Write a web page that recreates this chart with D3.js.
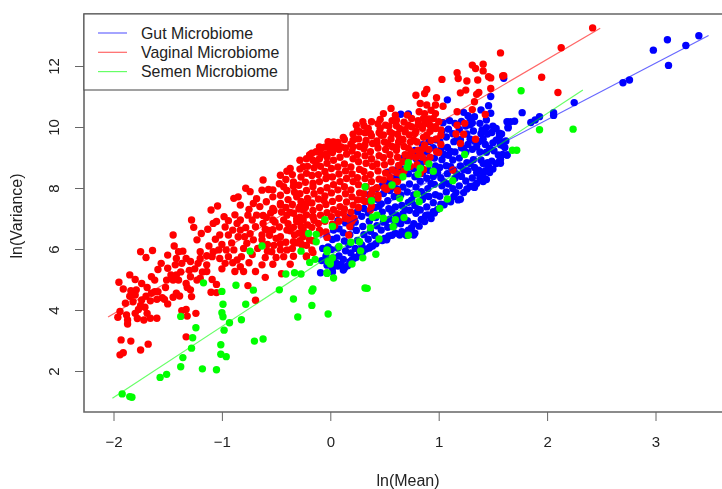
<!DOCTYPE html>
<html lang="en">
<head>
<meta charset="UTF-8">
<title>ln(Mean) vs ln(Variance)</title>
<script src="https://d3js.org/d3.v7.min.js"></script>
<style>
  html, body { margin: 0; background: #fff; }
  svg { display: block; filter: blur(0.35px); }
  text { font-family: "Liberation Sans", Arial, sans-serif; fill: #222; }
</style>
</head>
<body>
<div id="chart"></div>
<script>
var seriesNames = ["Gut Microbiome", "Vaginal Microbiome", "Semen Microbiome"];
var seriesColors = ["#0000ff", "#ff0000", "#00ff00"];
var xTicks = [-2, -1, 0, 1, 2, 3];
var yTicks = [2, 4, 6, 8, 10, 12];

// fitted lines, ends
var gutLine = [[-0.1, 6.35], [3.49, 13.0]];
var vaginalLine = [[-2.05, 3.77], [2.49, 13.24]];
var semenLine = [[-2.01, 1.11], [2.33, 11.21]];

// [ln(mean), ln(variance)]
var gutPoints = [
  [3.40,12.99],[3.28,12.67],[3.11,12.86],[2.98,12.52],[3.12,12.02],[2.76,11.54],[2.70,11.45],[2.25,10.80],[2.06,10.47],[2.06,10.38],
  [1.93,10.34],[1.89,10.23],[1.85,10.15],[1.77,10.47],[1.70,10.19],[1.66,10.17],[1.63,10.17],[1.64,9.99],[1.58,9.77],[1.62,9.54],
  [1.61,9.33],[1.63,9.08],[1.57,8.94],[1.57,9.52],[1.60,11.60],[1.08,10.89],[1.48,11.00],[1.46,10.70],[1.48,10.45],[1.39,10.56],
  [1.23,10.48],[0.65,10.42],[0.72,10.43],[1.10,10.21],[1.04,10.14],[1.44,10.23],[1.33,10.34],[1.64,9.97],[1.56,9.80],[1.53,9.57],
  [1.50,10.03],[1.40,9.90],[1.29,10.28],[1.29,10.07],[1.41,8.21],[1.33,8.02],[1.47,8.51],[1.57,8.81],[1.63,9.08],[1.18,7.61],
  [0.95,7.22],[0.87,6.90],[0.77,6.46],[0.64,6.46],[0.50,6.35],[0.37,6.08],[0.12,5.31],[0.20,5.64],[-0.09,5.22],[0.02,5.25],
  [-0.08,5.62],[-0.07,6.02],[-0.03,5.47],[-0.04,5.76],[-0.02,6.07],[-0.03,6.41],
  [0.02,5.38],[0.03,5.71],[0.01,5.98],[0.02,6.31],[0.03,6.62],
  [0.07,5.44],[0.08,5.77],[0.07,6.03],[0.06,6.36],[0.08,6.66],[0.07,6.93],
  [0.13,5.37],[0.12,5.66],[0.14,5.94],[0.13,6.26],[0.12,6.53],[0.14,6.86],
  [0.18,5.58],[0.19,5.87],[0.17,6.14],[0.18,6.47],[0.19,6.73],[0.18,7.06],
  [0.24,5.73],[0.23,6.02],[0.25,6.28],[0.24,6.61],[0.23,6.88],[0.25,7.22],
  [0.30,5.91],[0.29,6.13],[0.31,6.47],[0.30,6.74],[0.29,7.07],[0.31,7.33],
  [0.36,6.03],[0.35,6.32],[0.37,6.58],[0.36,6.91],[0.35,7.18],[0.37,7.52],[0.36,7.78],
  [0.42,6.17],[0.41,6.44],[0.43,6.76],[0.42,7.03],[0.41,7.36],[0.43,7.63],[0.42,7.97],
  [0.48,6.28],[0.47,6.62],[0.49,6.88],[0.48,7.21],[0.47,7.48],[0.49,7.82],[0.48,8.08],
  [0.54,6.43],[0.53,6.71],[0.55,6.98],[0.54,7.32],[0.53,7.58],[0.55,7.92],[0.54,8.18],[0.53,8.52],
  [0.60,6.52],[0.59,6.78],[0.61,7.11],[0.60,7.38],[0.59,7.72],[0.61,7.98],[0.60,8.32],[0.59,8.58],
  [0.66,6.57],[0.65,6.83],[0.67,7.16],[0.66,7.43],[0.65,7.77],[0.67,8.03],[0.66,8.37],[0.65,8.63],[0.67,8.97],
  [0.72,6.62],[0.71,6.93],[0.73,7.27],[0.72,7.53],[0.71,7.87],[0.73,8.13],[0.72,8.47],[0.71,8.73],[0.73,9.07],
  [0.78,6.52],[0.77,6.83],[0.79,7.17],[0.78,7.43],[0.77,7.77],[0.79,8.03],[0.78,8.37],[0.77,8.63],[0.79,8.97],[0.78,9.23],
  [0.84,6.97],[0.83,7.28],[0.85,7.62],[0.84,7.88],[0.83,8.22],[0.85,8.48],[0.84,8.82],[0.83,9.08],[0.85,9.42],
  [0.90,7.12],[0.89,7.38],[0.91,7.72],[0.90,7.98],[0.89,8.32],[0.91,8.58],[0.90,8.92],[0.89,9.18],[0.91,9.52],
  [0.96,7.18],[0.95,7.52],[0.97,7.78],[0.96,8.12],[0.95,8.38],[0.97,8.72],[0.96,8.98],[0.95,9.32],[0.97,9.58],
  [1.02,7.47],[1.01,7.73],[1.03,8.07],[1.02,8.33],[1.01,8.67],[1.03,8.93],[1.02,9.27],[1.01,9.53],[1.03,9.87],
  [1.08,7.58],[1.07,7.87],[1.09,8.13],[1.08,8.47],[1.07,8.73],[1.09,9.07],[1.08,9.33],[1.07,9.67],[1.09,9.93],
  [1.14,7.72],[1.13,7.98],[1.15,8.32],[1.14,8.58],[1.13,8.92],[1.15,9.18],[1.14,9.52],[1.13,9.78],[1.15,10.12],
  [1.20,7.63],[1.19,8.07],[1.21,8.38],[1.20,8.72],[1.19,8.98],[1.21,9.32],[1.20,9.58],[1.19,9.92],[1.21,10.18],
  [1.26,7.97],[1.25,8.23],[1.27,8.57],[1.26,8.83],[1.25,9.17],[1.27,9.43],[1.26,9.77],[1.25,10.03],[1.27,10.37],
  [1.32,8.07],[1.31,8.33],[1.33,8.67],[1.32,8.93],[1.31,9.27],[1.33,9.53],[1.32,9.87],[1.31,10.13],
  [1.38,8.32],[1.37,8.58],[1.39,8.92],[1.38,9.18],[1.37,9.52],[1.39,9.78],[1.38,10.12],
  [1.44,8.28],[1.43,8.57],[1.45,8.83],[1.44,9.17],[1.43,9.43],[1.45,9.77],[1.44,9.98],
  [1.50,8.62],[1.49,8.88],[1.51,9.22],[1.50,9.48],[1.49,9.82],
  [1.56,8.87],[1.55,9.08],[1.57,9.42],[1.56,9.68],
  [0.05,5.55],[0.10,5.50],[0.16,5.45],[0.22,5.70],[0.27,5.85],[0.33,6.00],[0.39,6.10],[0.45,6.30],[0.52,6.30],[0.57,6.45],
  [0.70,6.45],[0.75,6.70],[0.82,6.75],[0.88,7.10],[0.93,7.00],[0.99,7.30],[1.05,7.45],[1.11,7.55],[1.16,7.85],[1.23,7.85],
  [1.29,8.05],[1.35,8.15],[1.41,8.45],[1.46,8.70],[1.53,8.80],[1.59,9.10],[1.59,9.40],[1.53,9.95],[1.47,9.30],[1.41,9.60],
  [1.35,9.35],[1.29,9.60],[1.23,9.30],[1.17,9.60],[1.11,9.20],[1.05,9.10],[1.11,8.70],[1.17,8.45],[1.23,8.60],[1.29,8.80],
  [1.35,8.50],[1.41,8.80],[1.05,8.20],[0.99,8.50],[0.93,8.15],[0.87,7.75],[0.81,7.30],[0.75,7.60],[0.69,7.30],[0.63,7.00],
  [0.57,7.20],[0.51,6.90],[0.45,7.40]
];

var vaginalPoints = [
  [2.42,13.25],[2.13,12.60],[1.95,11.63],[2.10,11.13],[1.60,11.68],[1.57,12.43],[1.31,12.03],[1.34,11.92],[1.41,12.06],[1.41,11.84],
  [1.46,11.65],[1.48,11.61],[1.59,11.67],[1.17,11.78],[1.18,11.59],[1.03,11.56],[1.26,11.51],[1.36,11.54],[1.48,11.26],[1.25,11.21],
  [1.20,11.12],[1.37,11.13],[1.35,11.07],[1.33,10.83],[1.31,10.57],[0.89,11.23],[0.87,11.10],[0.79,11.04],[0.98,10.96],[0.83,10.77],
  [0.89,10.72],[0.97,10.72],[1.04,10.68],[1.17,10.50],[1.43,10.41],[0.56,10.61],[0.49,10.44],[0.46,10.25],[0.60,10.39],[0.61,10.22],
  [0.71,10.39],[0.75,10.28],[0.82,10.50],[0.87,10.44],[0.93,10.55],[0.97,10.44],[0.95,10.28],[0.86,10.28],[1.00,10.17],[1.02,9.90],
  [1.02,9.73],[0.81,10.06],[0.92,10.06],[0.97,9.95],[1.17,10.06],[1.24,10.12],[1.16,9.77],[1.23,9.76],[1.20,9.46],[1.34,9.60],
  [1.02,9.43],[0.98,9.19],[0.86,9.30],[0.12,9.66],[0.21,9.57],[0.30,10.17],[0.38,10.17],[0.24,10.06],[0.35,9.95],[0.46,9.95],
  [0.54,10.03],[0.27,9.84],[0.37,9.79],[0.47,9.73],[0.57,9.79],[0.64,9.95],[0.72,10.06],[0.69,9.84],[0.78,9.79],[0.89,9.73],
  [0.77,9.57],[0.64,9.62],[0.03,9.51],[-0.08,9.32],[-0.13,9.19],[-0.19,9.08],[0.10,9.35],[0.00,9.24],[0.21,9.35],[0.32,9.41],
  [0.43,9.46],[0.53,9.46],[0.61,9.35],[0.72,9.30],[0.83,9.13],
  // lower edge of the cloud
  [0.37,7.28],[0.62,7.91],[0.44,7.67],[0.17,6.46],[0.18,6.74],[0.22,7.01],[0.18,6.95],[0.12,7.17],[0.04,6.74],[-0.03,6.38],
  [-0.19,6.30],[-0.26,6.14],[-0.16,5.88],[-0.22,5.75],[0.30,7.61],[0.38,7.83],[0.52,7.96],[0.60,8.21],[0.64,8.48],[0.83,8.48],
  [0.89,8.87],[1.00,9.16],[1.13,8.59],[-0.28,6.90],[-0.16,7.06],[-0.25,7.28],
  // scattered left part
  [-1.93,3.02],[-1.84,2.98],[-1.68,2.88],[-1.75,2.69],[-1.91,2.60],[-1.94,2.53],[-1.33,3.12],[-1.87,3.54],[-1.87,3.67],[-1.96,3.76],
  [-1.94,3.95],[-1.88,3.84],[-1.80,3.89],[-1.72,3.67],[-1.66,3.73],[-1.60,3.73],[-1.69,3.89],[-1.77,4.02],[-1.89,4.22],[-1.82,4.27],
  [-1.71,4.09],[-1.66,4.30],[-1.53,4.35],[-1.95,4.91],[-1.91,4.69],[-1.84,4.63],[-1.79,4.66],[-1.80,4.49],[-1.74,4.33],[-1.85,5.15],
  [-1.80,5.00],[-1.74,4.87],[-1.69,4.74],[-1.62,4.60],[-1.65,5.09],[-1.62,4.98],[-1.59,4.60],[-1.52,4.74],[-1.51,4.98],[-1.45,4.98],
  [-1.42,5.15],[-1.44,5.09],[-1.40,4.98],[-1.59,5.33],[-1.56,5.53],[-1.50,5.37],[-1.45,4.42],[-1.39,4.46],[-1.42,4.55],[-1.33,4.87],
  [-1.29,4.66],[-1.28,4.44],[-1.32,4.74],[-1.37,3.98],[-1.33,4.02],[-1.32,3.80],[-1.24,3.89],[-1.29,5.09],[-1.23,4.98],[-1.20,5.04],
  [-1.09,5.00],[-1.05,4.84],[-1.10,4.58],[-1.05,4.57],[-0.76,4.80],[-0.69,4.32],[-1.75,5.91],[-1.64,5.95],[-1.70,5.72],[-1.50,5.80],
  [-1.44,6.10],[-1.45,6.46],[-1.40,5.91],[-1.36,5.93],[-1.42,5.69],[-1.33,5.69],[-1.37,5.53],[-1.43,5.48],[-1.29,5.59],[-1.23,6.30],
  [-1.19,6.51],[-1.13,6.65],[-1.26,6.71],[-1.28,6.95],[-1.10,7.28],[-1.04,7.41],[-1.08,6.84],[-1.05,6.90],[-0.98,7.06],[-0.94,6.93],
  [-1.02,6.46],[-1.06,6.32],[-0.94,6.46],[-1.20,5.91],[-1.20,5.69],[-1.22,5.53],[-1.14,5.48],[-1.14,5.26],[-1.08,5.91],[-1.09,5.75],
  [-1.03,5.97],[-1.02,5.69],[-0.96,5.97],[-0.97,5.53],[-0.94,5.75],[-0.89,5.97],[-0.88,5.26],[-0.83,5.42],[-0.80,5.26],[-0.82,5.75],
  [-0.86,5.64],[-0.80,6.02],[-0.69,5.26],[-0.60,5.07],[-0.63,5.48],[-0.53,5.50],[-0.45,5.19],[-0.37,5.50],[-0.86,6.84],[-0.83,6.62],
  [-0.85,6.40],[-0.79,6.40],[-0.74,6.50],[-0.69,6.73],[-0.63,6.46],[-0.71,6.30],[-0.77,6.19],[-0.63,6.30],[-0.68,7.11],[-0.76,7.11],
  [-0.83,6.95],[-0.62,6.84],[-0.54,5.91],[-0.46,5.97],[-0.43,5.75],[-0.34,6.24],[-0.26,6.13],[-0.19,6.30],[-0.17,5.97],[-0.22,5.77],
  [-0.46,6.40],[-0.40,6.62],[-0.53,6.95],[-0.43,6.95],[-0.31,6.90],[-0.25,6.62],[-0.34,7.17],[-0.53,7.33],[-0.65,7.39],[-0.46,7.44],
  [-0.28,7.39],[-0.16,7.06],[-0.10,6.62],[-0.83,7.44],[-0.89,7.66],[-0.85,7.71],[-0.78,7.99],[-0.74,7.88],[-0.62,8.26],[-0.63,7.93],
  [-0.46,8.42],[-0.37,8.64],[-0.28,8.91],[-0.19,9.08],[-0.10,9.35],[-0.02,9.52],[-0.43,8.04],[-0.53,7.71],[-0.59,7.55],[-0.71,7.49],
  [-0.34,8.20],[-0.22,8.48],[-0.13,8.80],[-0.03,9.02],[-0.31,7.71],[-0.16,8.04],[-0.03,8.37],[-0.46,7.49],[-0.22,7.49],[-0.06,7.60],
  // more of the left part
  [-1.00,6.15],[-0.97,6.72],[-0.91,6.20],[-0.90,6.62],[-0.88,7.12],[-0.75,5.55],[-0.72,5.82],[-0.67,6.02],[-0.58,6.15],[-0.60,5.72],
  [-0.50,5.72],[-0.56,6.45],[-0.50,6.35],[-0.55,7.18],[-0.62,7.10],[-0.72,6.95],[-0.78,6.70],[-0.90,5.55],[-1.12,6.10],[-1.14,5.78],
  [-1.00,5.35],[-1.30,5.30],[-1.55,4.40],[-1.50,4.20],[-1.70,4.45],[-1.60,4.35],[-1.75,4.15],[-1.65,4.55],[-1.85,4.45],[-1.78,3.72],
  [-1.38,5.25],[-1.25,5.35],[-1.18,5.25],[-1.47,5.15],[-0.37,6.60],[-0.31,6.20],[-0.31,7.00],[-0.37,7.20],[-0.25,6.40],[-0.25,6.95],
  [-0.68,7.65],[-0.57,7.95],[-0.40,8.55],[-0.25,8.70],[-0.08,9.10],[0.05,9.30],[-0.75,7.30],[-0.60,6.65],
  // dense middle of the cloud
  [-0.58,5.93],[-0.57,6.61],[-0.59,7.03],[-0.52,6.12],[-0.53,6.63],[-0.51,6.88],[-0.52,7.26],[-0.53,7.94],
  [-0.46,6.17],[-0.47,6.72],[-0.45,7.21],[-0.46,7.76],[-0.47,8.14],[-0.40,5.97],[-0.41,6.22],[-0.39,6.83],[-0.40,7.11],[-0.41,7.36],[-0.39,7.62],[-0.40,7.92],[-0.41,8.28],
  [-0.34,5.76],[-0.35,6.02],[-0.33,6.46],[-0.34,6.71],[-0.35,7.46],[-0.33,7.86],[-0.34,8.06],[-0.35,8.44],
  [-0.28,6.27],[-0.29,6.52],[-0.27,6.74],[-0.28,7.04],[-0.29,7.31],[-0.27,7.56],[-0.28,7.81],[-0.29,8.09],[-0.27,8.36],[-0.28,8.62],
  [-0.22,6.12],[-0.23,6.51],[-0.21,6.79],[-0.22,7.12],[-0.23,7.36],[-0.21,7.66],[-0.22,7.92],[-0.23,8.19],[-0.21,8.71],[-0.22,8.96],
  [-0.16,6.27],[-0.17,6.71],[-0.15,6.94],[-0.16,7.26],[-0.17,7.51],[-0.15,7.81],[-0.16,8.16],[-0.17,8.41],[-0.15,8.66],[-0.16,8.91],[-0.17,9.14],
  [-0.10,6.52],[-0.11,6.84],[-0.09,7.11],[-0.10,7.36],[-0.11,7.64],[-0.09,7.91],[-0.10,8.21],[-0.11,8.44],[-0.09,8.71],[-0.10,8.96],[-0.11,9.19],
  [-0.04,6.56],[-0.05,6.91],[-0.03,7.19],[-0.04,7.46],[-0.05,7.74],[-0.03,8.01],[-0.04,8.31],[-0.05,8.54],[-0.03,8.81],[-0.04,9.11],[-0.05,9.34],
  [0.02,6.81],[0.01,7.06],[0.03,7.29],[0.02,7.56],[0.01,7.84],[0.03,8.11],[0.02,8.36],[0.01,8.64],[0.03,8.91],[0.02,9.16],[0.01,9.39],
  [0.08,6.91],[0.07,7.16],[0.09,7.39],[0.08,7.66],[0.07,7.94],[0.09,8.21],[0.08,8.46],[0.07,8.69],[0.09,9.01],[0.08,9.26],[0.07,9.49],
  [0.14,7.01],[0.13,7.31],[0.15,7.54],[0.14,7.81],[0.13,8.04],[0.15,8.31],[0.14,8.56],[0.13,8.79],[0.15,9.11],[0.14,9.31],[0.13,9.59],
  [0.20,6.91],[0.19,7.21],[0.21,7.44],[0.20,7.71],[0.19,7.94],[0.21,8.21],[0.20,8.46],[0.19,8.69],[0.21,8.96],[0.20,9.21],[0.19,9.44],[0.21,9.76],
  [0.26,7.36],[0.25,7.61],[0.27,7.84],[0.26,8.11],[0.25,8.34],[0.27,8.61],[0.26,8.86],[0.25,9.09],[0.27,9.36],[0.26,9.61],[0.25,9.89],
  [0.32,7.56],[0.31,7.81],[0.33,8.04],[0.32,8.31],[0.31,8.54],[0.33,8.81],[0.32,9.06],[0.31,9.29],[0.33,9.56],[0.32,9.81],[0.31,10.04],
  [0.38,7.41],[0.37,7.71],[0.39,7.94],[0.38,8.21],[0.37,8.44],[0.39,8.71],[0.38,8.96],[0.37,9.19],[0.39,9.46],[0.38,9.71],
  [0.44,7.76],[0.43,8.01],[0.45,8.29],[0.44,8.56],[0.43,8.79],[0.45,9.06],[0.44,9.31],[0.43,9.54],[0.45,9.81],[0.44,10.11],
  [0.50,8.01],[0.49,8.26],[0.51,8.49],[0.50,8.76],[0.49,8.99],[0.51,9.26],[0.50,9.51],[0.49,9.74],[0.51,10.06],
  [0.56,8.06],[0.55,8.36],[0.57,8.59],[0.56,8.86],[0.55,9.09],[0.57,9.36],[0.56,9.61],[0.55,9.84],[0.57,10.21],
  [0.62,8.21],[0.61,8.51],[0.63,8.74],[0.62,9.01],[0.61,9.24],[0.63,9.51],[0.62,9.76],[0.61,10.04],
  [0.68,8.56],[0.67,8.86],[0.69,9.09],[0.68,9.36],[0.67,9.59],[0.69,9.91],[0.68,10.16],
  [0.74,8.71],[0.73,9.01],[0.75,9.19],[0.74,9.51],[0.73,9.74],[0.75,10.01],
  [0.80,8.76],[0.79,9.01],[0.81,9.24],[0.80,9.51],[0.79,9.86],[0.81,10.21],
  [0.86,8.61],[0.85,9.01],[0.87,9.41],[0.86,9.66],[0.85,9.96],[0.87,10.11],
  [0.92,9.01],[0.91,9.26],[0.93,9.56],[0.92,9.86],[0.91,10.26],[0.98,9.61],[0.97,10.01]
];

var semenPoints = [
  [-1.92,1.25],[-1.85,1.16],[-1.83,1.14],[-1.57,1.79],[-1.51,1.89],[-1.38,2.14],[-1.36,2.44],[-1.18,2.07],[-1.05,2.04],[-1.28,2.75],
  [-1.01,2.86],[-1.01,2.55],[-0.96,2.47],[-0.70,2.98],[-0.62,3.05],[-1.27,3.09],[-1.24,3.42],[-1.38,3.79],[-0.98,3.34],[-0.93,3.58],
  [-0.82,3.68],[-0.99,3.78],[-1.00,3.91],[-0.99,4.19],[-0.78,4.19],[-1.00,4.61],[-0.87,4.81],[-0.71,4.65],[-0.47,4.66],[-0.34,4.36],
  [-0.17,4.15],[-0.30,3.77],[-0.02,3.87],[-0.17,4.62],[-0.16,4.69],[-1.17,4.89],[-0.74,5.93],[-0.63,6.10],[-0.41,5.18],[-0.33,5.22],
  [-0.27,5.18],[-0.27,5.93],[-0.19,5.56],[-0.14,5.66],[-0.20,6.51],[-0.13,6.48],[-0.13,6.24],[-0.05,6.96],[-0.03,5.97],[-0.02,5.58],
  [-0.03,5.20],[0.02,6.74],[0.32,8.04],[0.57,8.10],[0.67,8.37],[0.72,8.83],[0.71,8.68],[0.83,8.65],[0.81,8.45],[0.91,8.79],
  [0.95,8.55],[1.24,9.10],[1.13,8.24],[1.08,7.64],[1.01,7.33],[0.80,7.80],[0.82,7.55],[0.64,7.66],[0.38,7.58],[0.43,7.11],
  [0.39,7.04],[0.49,7.01],[0.60,6.96],[0.68,7.03],[0.58,6.73],[0.37,6.70],[0.45,6.33],[0.72,6.45],[0.27,6.24],[0.19,6.22],
  [0.08,6.08],[-0.03,5.91],[0.28,5.94],[0.30,5.71],[0.42,5.83],[0.02,5.71],[0.00,5.61],[0.00,5.51],[0.20,5.51],[-0.03,5.22],
  [0.03,5.05],[0.32,4.72],[0.34,4.71],[1.76,11.19],[1.93,9.91],[2.24,9.93],[1.68,9.24],[1.72,9.24]
];

var width = 722, height = 489;
var plot = {left: 84, right: 726, top: 14, bottom: 412};

var svg = d3.select("#chart").append("svg")
    .attr("width", width)
    .attr("height", height);

// 1 unit of x is 108.4px, 1 unit of y is 30.5px
var x = d3.scaleLinear().domain([-2, 3]).range([113.5, 655.5]);
var y = d3.scaleLinear().domain([2, 12]).range([371, 66]);

var line = d3.line()
    .x(function(d) { return x(d[0]); })
    .y(function(d) { return y(d[1]); });

function drawPoints(points, color) {
  svg.append("g").selectAll("circle")
      .data(points)
    .enter().append("circle")
      .attr("cx", function(d) { return x(d[0]); })
      .attr("cy", function(d) { return y(d[1]); })
      .attr("r", 3.7)
      .attr("fill", color);
}

drawPoints(gutPoints, seriesColors[0]);
drawPoints(vaginalPoints, seriesColors[1]);
drawPoints(semenPoints, seriesColors[2]);

[gutLine, vaginalLine, semenLine].forEach(function(d, i) {
  svg.append("path")
      .attr("d", line(d))
      .attr("fill", "none")
      .attr("stroke", seriesColors[i])
      .attr("stroke-opacity", 0.6)
      .attr("stroke-width", 1.2);
});

// axes
var xAxis = svg.append("g")
    .attr("transform", "translate(0," + plot.bottom + ")")
    .call(d3.axisBottom(x).tickValues(xTicks).tickSize(9).tickPadding(15).tickFormat(d3.format("d")));
xAxis.select(".domain").remove();
xAxis.selectAll("line").attr("stroke", "#666");
xAxis.selectAll("text").attr("font-size", 15);

var yAxis = svg.append("g")
    .attr("transform", "translate(" + plot.left + ",0)")
    .call(d3.axisLeft(y).tickValues(yTicks).tickSize(9).tickFormat(d3.format("d")));
yAxis.select(".domain").remove();
yAxis.selectAll("line").attr("stroke", "#666");
yAxis.selectAll("text")
    .attr("font-size", 15)
    .attr("text-anchor", "middle")
    .attr("dy", 0)
    .attr("x", 0)
    .attr("transform", "translate(-25,0) rotate(-90)");

// box, the right side falls off the picture
svg.append("path")
    .attr("d", "M" + plot.right + "," + plot.top + "H" + plot.left + "V" + plot.bottom + "H" + plot.right)
    .attr("fill", "none")
    .attr("stroke", "#666")
    .attr("stroke-width", 1.6);

svg.append("text")
    .attr("x", 408)
    .attr("y", 486)
    .attr("text-anchor", "middle")
    .attr("font-size", 16)
    .text("ln(Mean)");

svg.append("text")
    .attr("transform", "translate(22,216) rotate(-90)")
    .attr("text-anchor", "middle")
    .attr("font-size", 16)
    .text("ln(Variance)");

// legend
svg.append("rect")
    .attr("x", plot.left)
    .attr("y", plot.top)
    .attr("width", 204)
    .attr("height", 76)
    .attr("fill", "#fff")
    .attr("stroke", "#555")
    .attr("stroke-width", 1.1);

seriesNames.forEach(function(name, i) {
  var ly = 33 + i * 19.3;
  svg.append("line")
      .attr("x1", 98).attr("x2", 127)
      .attr("y1", ly).attr("y2", ly)
      .attr("stroke", seriesColors[i])
      .attr("stroke-opacity", 0.6)
      .attr("stroke-width", 1.2);
  svg.append("text")
      .attr("x", 141)
      .attr("y", ly + 5.5)
      .attr("font-size", 15.9)
      .text(name);
});
</script>
</body>
</html>
